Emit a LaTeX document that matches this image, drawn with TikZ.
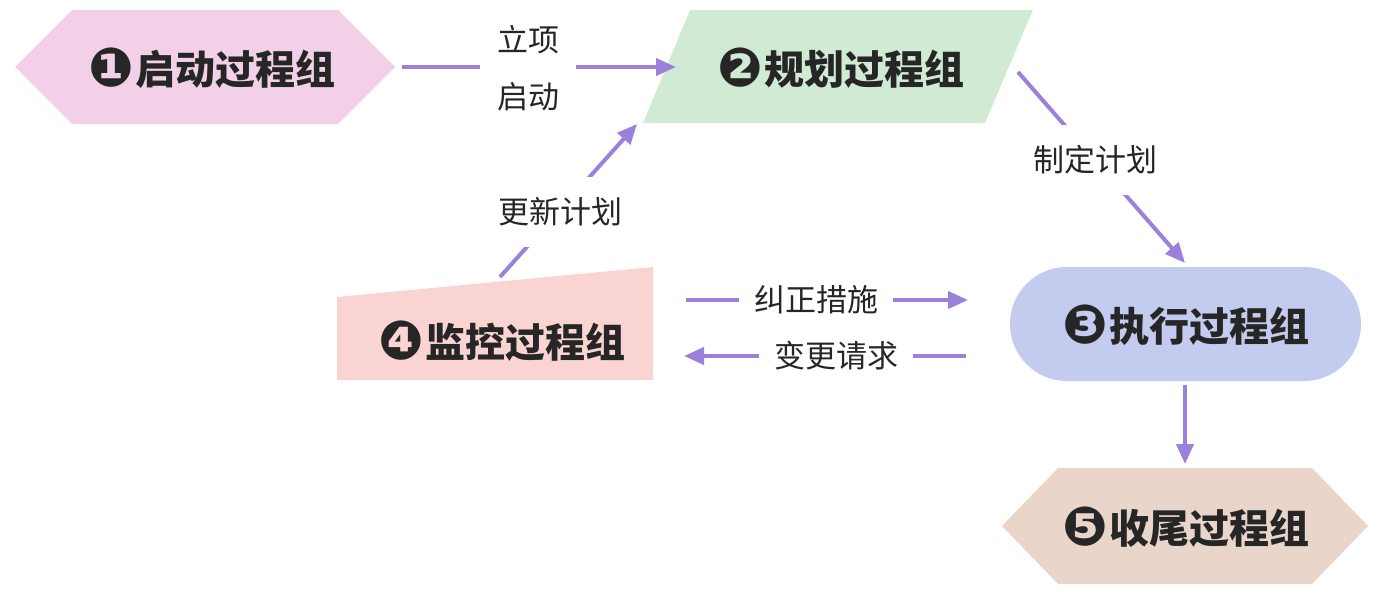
\documentclass[tikz,border=0pt]{standalone}
\usepackage{fontspec}
\usetikzlibrary{arrows.meta}
\newfontfamily\cjk{Noto Sans CJK SC}
\newfontfamily\djv{DejaVu Sans}
\newcommand\cnum[1]{{\djv\fontsize{54}{54}\selectfont\raisebox{-2pt}{#1}}\hspace{2pt}}
\definecolor{arrowc}{HTML}{9B80DC}
\definecolor{txt}{HTML}{262626}
\definecolor{pinkA}{HTML}{F2D0E8}
\definecolor{greenA}{HTML}{D0EAD3}
\definecolor{blueA}{HTML}{C3CBEE}
\definecolor{salmonA}{HTML}{F9D4D2}
\definecolor{tanA}{HTML}{E9D5CA}
\tikzset{
  title/.style={text=txt, font=\cjk\bfseries\fontsize{40}{44}\selectfont, inner sep=0pt},
  conn/.style={draw=arrowc, line width=4pt, -{Triangle[length=20pt,width=17pt]}},
  lbl/.style={text=txt, font=\cjk\fontsize{31}{57}\selectfont, fill=white, align=center, inner xsep=15pt, inner ysep=3pt}
}
\begin{document}
\begin{tikzpicture}[x=1pt,y=-1pt]
\useasboundingbox (0,0) rectangle (1383,594);
% shapes
\fill[pinkA] (15,67) -- (72,10) -- (338,10) -- (395,67) -- (338,124) -- (72,124) -- cycle;
\fill[greenA] (690,10) -- (1033,10) -- (985,123) -- (643,123) -- cycle;
\fill[salmonA] (337,297) -- (653,267) -- (653,380) -- (337,380) -- cycle;
\fill[blueA, rounded corners=56.9pt] (1010,267) rectangle (1361,381);
\fill[tanA] (1002,526) -- (1058,468) -- (1312,468) -- (1368,526) -- (1312,584) -- (1058,584) -- cycle;
% titles
\node[title] (n1) at (212,68) {\cnum{❶}启动过程组};
\node[title] (n2) at (841,68) {\cnum{❷}规划过程组};
\node[title] (n3) at (1186,325) {\cnum{❸}执行过程组};
\node[title] (n4) at (502,341) {\cnum{❹}监控过程组};
\node[title] (n5) at (1186,527) {\cnum{❺}收尾过程组};
% connector endpoints
\coordinate (a1s) at (402,67);  \coordinate (a1e) at (676,67);
\coordinate (a2s) at (1018,72); \coordinate (a2e) at (1185,263);
\coordinate (a3s) at (500,277); \coordinate (a3e) at (637,124);
\coordinate (a4s) at (686,300); \coordinate (a4e) at (968,300);
\coordinate (a5s) at (966,356); \coordinate (a5e) at (684,356);
\coordinate (a6s) at (1185,385); \coordinate (a6e) at (1185,464);
% connectors
\draw[conn] (a1s) -- (a1e);
\draw[conn] (a2s) -- (a2e);
\draw[conn] (a3s) -- (a3e);
\draw[conn] (a4s) -- (a4e);
\draw[conn] (a5s) -- (a5e);
\draw[conn] (a6s) -- (a6e);
% labels
\node[lbl, inner xsep=17pt] (l1) at (528,68) {立项\\启动};
\node[lbl, inner ysep=21pt, inner xsep=6pt] (l2) at (1095,160) {制定计划};
\node[lbl, inner ysep=21pt, inner xsep=6pt] (l3) at (560,212) {更新计划};
\node[lbl] (l4) at (816,300) {纠正措施};
\node[lbl] (l5) at (836,356) {变更请求};
\end{tikzpicture}
\end{document}
